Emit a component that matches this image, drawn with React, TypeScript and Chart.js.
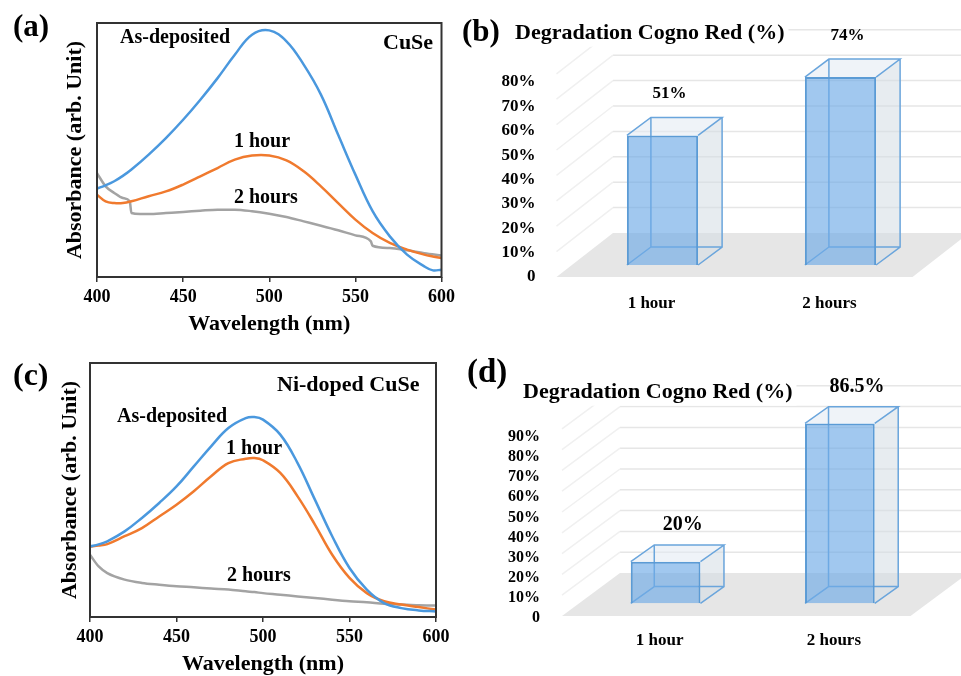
import React, { useEffect, useRef } from 'react';
import { Chart, registerables } from 'chart.js';

Chart.register(...registerables);

const FONT = "'Liberation Serif', 'Times New Roman', serif";

// ---------- Panel (a): CuSe absorbance ----------
const cuseWavelength = [400, 405, 410, 415, 420, 430, 440, 450, 460, 470, 480, 490, 500, 510, 520, 530, 540, 550, 560, 570, 580, 590, 595, 600];
const cuseAsDeposited = [34.8, 36.1, 37.7, 39.8, 42.3, 48.2, 54.7, 61.9, 69.8, 78.3, 87.5, 95.4, 97.1, 92.8, 83.6, 71.8, 56.0, 40.3, 25.9, 16.0, 8.8, 4.2, 2.6, 2.9];
const cuseOneHour = [32.4, 29.8, 29.1, 29.1, 29.8, 31.8, 33.7, 36.4, 39.6, 42.9, 46.2, 47.8, 47.8, 45.9, 41.6, 35.7, 29.1, 22.6, 17.3, 13.4, 10.8, 8.8, 8.1, 7.5];
const cuseTwoHoursWavelength = [400, 405, 410, 415, 419, 420, 425, 430, 440, 450, 460, 470, 480, 490, 500, 510, 520, 530, 540, 550, 559, 560, 570, 580, 590, 600];
const cuseTwoHours = [40.9, 35.7, 33.1, 31.1, 29.8, 25.2, 24.8, 24.8, 25.2, 25.6, 26.1, 26.5, 26.5, 25.9, 24.9, 23.6, 21.9, 20.2, 18.4, 16.4, 14.0, 12.3, 11.4, 10.5, 9.4, 8.5];

// ---------- Panel (c): Ni-doped CuSe absorbance ----------
const niWavelength = [400, 405, 410, 420, 430, 440, 450, 460, 470, 480, 490, 495, 500, 510, 520, 530, 540, 550, 560, 570, 580, 590, 600];
const niAsDeposited = [27.8, 28.6, 29.8, 33.7, 39.0, 44.9, 51.4, 59.3, 67.2, 74.4, 78.3, 78.7, 77.7, 71.8, 60.6, 46.2, 31.8, 19.3, 10.8, 5.5, 3.5, 2.6, 2.2];
const niOneHour = [27.8, 28.1, 28.7, 31.8, 35.0, 39.6, 44.2, 49.5, 55.4, 60.6, 62.3, 62.6, 61.7, 56.7, 47.5, 36.4, 24.5, 15.4, 9.4, 6.2, 4.9, 3.9, 2.9];
const niTwoHours = [24.5, 19.9, 17.3, 14.7, 13.4, 12.7, 12.1, 11.7, 11.2, 10.8, 10.1, 9.8, 9.4, 8.8, 8.1, 7.5, 6.8, 6.2, 5.8, 5.2, 4.9, 4.6, 4.5];

const wavelengthTicks = [400, 450, 500, 550, 600];

// ---------- Panels (b) and (d): degradation ----------
const categories = ['1 hour', '2 hours'];
const cuseDegradation = [51, 74];
const niDegradation = [20, 86.5];
const cuseDegTicks = [0, 10, 20, 30, 40, 50, 60, 70, 80];
const niDegTicks = [0, 10, 20, 30, 40, 50, 60, 70, 80, 90];

const COLORS = { dep: '#4A98DE', h1: '#F07A2E', h2: '#A3A3A3' };

type TextItem = { text: string; x: number; y: number; size: number; baseline?: CanvasTextBaseline; bg?: boolean };

function makeTextPlugin(items: TextItem[]) {
  return {
    id: 'texts',
    afterDraw(chart: any) {
      const ctx = chart.ctx;
      ctx.save();
      for (const it of items) {
        ctx.font = `bold ${it.size}px ${FONT}`;
        ctx.textAlign = 'left';
        ctx.textBaseline = it.baseline || 'alphabetic';
        if (it.bg) {
          const w = ctx.measureText(it.text).width;
          ctx.fillStyle = '#fff';
          ctx.fillRect(it.x - 4, it.y - it.size, w + 8, it.size * 1.35);
        }
        ctx.fillStyle = '#000';
        ctx.fillText(it.text, it.x, it.y);
      }
      ctx.restore();
    },
  };
}

const framePlugin = {
  id: 'frame',
  afterDraw(chart: any) {
    const { left, top, right, bottom } = chart.chartArea;
    const ctx = chart.ctx;
    ctx.save();
    ctx.strokeStyle = '#333';
    ctx.lineWidth = 2;
    ctx.strokeRect(left, top, right - left, bottom - top);
    ctx.restore();
  },
};

type Series = { label: string; wl: number[]; values: number[]; color: string; mono?: boolean };

function makeLineConfig(series: Series[], lay: any, texts: TextItem[]) {
  const titleFont = { family: FONT, size: 22, weight: 'bold' as const };
  return {
    type: 'line' as const,
    data: {
      datasets: series.map((s) => ({
        label: s.label,
        data: s.wl.map((x, i) => ({ x, y: s.values[i] })),
        borderColor: s.color,
        borderWidth: 2.5,
        pointRadius: 0,
        cubicInterpolationMode: s.mono ? ('monotone' as const) : ('default' as const),
        tension: s.mono ? 0 : 0.4,
        fill: false,
      })),
    },
    options: {
      animation: false as const,
      responsive: false,
      events: [],
      layout: { padding: { top: lay.top, right: lay.right, left: 0, bottom: 0 } },
      scales: {
        x: {
          type: 'linear' as const,
          min: 400,
          max: 600,
          afterBuildTicks: (s: any) => { s.ticks = wavelengthTicks.map((v) => ({ value: v })); },
          ticks: { color: '#000', font: { family: FONT, size: 18, weight: 'bold' as const }, padding: 5 },
          grid: { drawOnChartArea: false, drawTicks: true, tickLength: 5, color: '#333', lineWidth: 1.5 },
          border: { display: false },
          title: { display: true, text: 'Wavelength (nm)', color: '#000', font: titleFont, padding: { top: 0, bottom: lay.xTitleBottom } },
          afterFit: (s: any) => { s.height = lay.xAxisH; },
        },
        y: {
          min: 0,
          max: 100,
          ticks: { display: false },
          grid: { display: false },
          border: { display: false },
          title: { display: true, text: 'Absorbance (arb. Unit)', color: '#000', font: titleFont, padding: { top: lay.yTitleTop, bottom: 0 } },
          afterFit: (s: any) => { s.width = lay.yAxisW; s.paddingTop = 0; s.paddingBottom = 0; },
        },
      },
      plugins: { legend: { display: false }, tooltip: { enabled: false } },
    },
    plugins: [framePlugin, makeTextPlugin(texts)],
  };
}

function makeBox3d(cfg: any) {
  return {
    id: 'box3d',
    beforeDatasetsDraw(chart: any) {
      const ctx = chart.ctx;
      const ca = chart.chartArea;
      const ys = chart.scales.y;
      const y0 = ys.getPixelForValue(0);
      const [ffx, ffy] = cfg.floorFront;
      const [fbx, fby] = cfg.floorBack;
      ctx.save();
      // floor
      ctx.fillStyle = '#e6e6e6';
      ctx.beginPath();
      ctx.moveTo(ca.left + ffx, y0 + ffy);
      ctx.lineTo(ca.right + ffx, y0 + ffy);
      ctx.lineTo(ca.right + fbx, y0 + fby);
      ctx.lineTo(ca.left + fbx, y0 + fby);
      ctx.closePath();
      ctx.fill();
      // back wall + side wall gridlines
      ctx.lineWidth = 1.5;
      for (const v of cfg.ticks) {
        if (v === 0) continue;
        const py = ys.getPixelForValue(v);
        ctx.strokeStyle = '#e6e6e6';
        ctx.beginPath();
        ctx.moveTo(ca.left + fbx, py + fby);
        ctx.lineTo(chart.width, py + fby);
        ctx.stroke();
        ctx.strokeStyle = '#f0f0f0';
        ctx.beginPath();
        ctx.moveTo(ca.left + fbx, py + fby);
        ctx.lineTo(ca.left + ffx, py + ffy);
        ctx.stroke();
      }
      // bar back, side and top faces
      const [dx, dy] = cfg.depth;
      const meta = chart.getDatasetMeta(0);
      meta.data.forEach((bar: any) => {
        const p = bar.getProps(['x', 'y', 'base', 'width'], true);
        const L = p.x - p.width / 2;
        const R = p.x + p.width / 2;
        const T = p.y;
        const B = p.base;
        const poly = (pts: number[][], fill: string) => {
          ctx.beginPath();
          ctx.moveTo(pts[0][0], pts[0][1]);
          for (let i = 1; i < pts.length; i++) ctx.lineTo(pts[i][0], pts[i][1]);
          ctx.closePath();
          ctx.fillStyle = fill;
          ctx.fill();
        };
        poly([[R, T], [R + dx, T + dy], [R + dx, B + dy], [R, B]], 'rgba(212,220,228,0.55)');
        poly([[L, T], [L + dx, T + dy], [R + dx, T + dy], [R, T]], 'rgba(226,234,242,0.55)');
        ctx.strokeStyle = '#6AA5DC';
        ctx.lineWidth = 1.5;
        ctx.beginPath();
        ctx.moveTo(L + dx, T + dy); ctx.lineTo(L + dx, B + dy); ctx.lineTo(R + dx, B + dy);
        ctx.moveTo(L, B); ctx.lineTo(L + dx, B + dy);
        ctx.moveTo(L, T); ctx.lineTo(L + dx, T + dy); ctx.lineTo(R + dx, T + dy); ctx.lineTo(R, T);
        ctx.moveTo(R + dx, T + dy); ctx.lineTo(R + dx, B + dy); ctx.lineTo(R, B);
        ctx.stroke();
      });
      ctx.restore();
    },
    afterDatasetsDraw(chart: any) {
      const ctx = chart.ctx;
      const meta = chart.getDatasetMeta(0);
      const vals = chart.data.datasets[0].data;
      ctx.save();
      ctx.font = `bold ${cfg.labelSize}px ${FONT}`;
      ctx.textAlign = 'center';
      ctx.textBaseline = 'middle';
      ctx.fillStyle = '#000';
      meta.data.forEach((bar: any, i: number) => {
        const p = bar.getProps(['x', 'y'], true);
        ctx.fillText(`${vals[i]}%`, p.x + cfg.labelDx, p.y + cfg.labelDy);
      });
      ctx.restore();
    },
  };
}

function makeBarConfig(values: number[], ticks: number[], lay: any, texts: TextItem[]) {
  const tickFont = { family: FONT, size: lay.tickSize, weight: 'bold' as const };
  return {
    type: 'bar' as const,
    data: {
      labels: categories,
      datasets: [
        {
          label: 'Degradation Cogno Red (%)',
          data: values,
          backgroundColor: 'rgba(110,170,230,0.65)',
          borderColor: '#5B9BD5',
          borderWidth: 2,
          categoryPercentage: 1,
          barPercentage: 0.4,
          yAxisID: 'y',
        },
      ],
    },
    options: {
      animation: false as const,
      responsive: false,
      events: [],
      layout: { padding: { top: lay.top, right: lay.right, left: 0, bottom: 0 } },
      scales: {
        x: {
          type: 'category' as const,
          offset: true,
          grid: { display: false },
          border: { display: false },
          ticks: { color: '#000', font: { family: FONT, size: 17, weight: 'bold' as const }, padding: lay.xPad, labelOffset: lay.xLabelOffset },
          afterFit: (s: any) => { s.height = lay.xAxisH; s.paddingLeft = 0; s.paddingRight = 0; },
        },
        y: { display: false, min: lay.barMin, max: lay.barMax },
        yl: {
          position: 'left' as const,
          min: 0,
          max: lay.lblMax,
          afterBuildTicks: (s: any) => { s.ticks = ticks.map((v) => ({ value: v })); },
          ticks: { color: '#000', font: tickFont, padding: lay.yPad, callback: (v: any) => (v === 0 ? '0' : `${v}%`) },
          grid: { display: false },
          border: { display: false },
          afterFit: (s: any) => { s.width = lay.yAxisW; s.paddingTop = 0; s.paddingBottom = 0; },
        },
      },
      plugins: { legend: { display: false }, tooltip: { enabled: false } },
    },
    plugins: [
      makeBox3d({ ticks, depth: lay.depth, floorFront: lay.floorFront, floorBack: lay.floorBack, labelSize: lay.labelSize, labelDx: lay.labelDx, labelDy: lay.labelDy }),
      makeTextPlugin(texts),
    ],
  };
}

function ChartBox({ left, top, width, height, make }: { left: number; top: number; width: number; height: number; make: () => any }) {
  const ref = useRef<HTMLCanvasElement>(null);
  useEffect(() => {
    const chart = new Chart(ref.current as HTMLCanvasElement, make());
    return () => chart.destroy();
  }, []);
  return (
    <div style={{ position: 'absolute', left, top, width, height }}>
      <canvas ref={ref} width={width} height={height} style={{ width, height, display: 'block' }} />
    </div>
  );
}

export default function App() {
  const makeA = () =>
    makeLineConfig(
      [
        { label: 'As-deposited', wl: cuseWavelength, values: cuseAsDeposited, color: COLORS.dep },
        { label: '1 hour', wl: cuseWavelength, values: cuseOneHour, color: COLORS.h1 },
        { label: '2 hours', wl: cuseTwoHoursWavelength, values: cuseTwoHours, color: COLORS.h2, mono: true },
      ],
      { top: 23, right: 17, xAxisH: 63, yAxisW: 97, xTitleBottom: 2, yTitleTop: 62 },
      [
        { text: '(a)', x: 13, y: 28, size: 31, baseline: 'middle' },
        { text: 'As-deposited', x: 120, y: 43, size: 20 },
        { text: 'CuSe', x: 383, y: 49, size: 22 },
        { text: '1 hour', x: 234, y: 147, size: 20 },
        { text: '2 hours', x: 234, y: 203, size: 20 },
      ]
    );
  const makeC = () =>
    makeLineConfig(
      [
        { label: 'As-deposited', wl: niWavelength, values: niAsDeposited, color: COLORS.dep },
        { label: '1 hour', wl: niWavelength, values: niOneHour, color: COLORS.h1 },
        { label: '2 hours', wl: niWavelength, values: niTwoHours, color: COLORS.h2, mono: true },
      ],
      { top: 23, right: 24, xAxisH: 59, yAxisW: 90, xTitleBottom: -2, yTitleTop: 57 },
      [
        { text: '(c)', x: 13, y: 37, size: 32, baseline: 'middle' },
        { text: 'Ni-doped CuSe', x: 277, y: 51, size: 22 },
        { text: 'As-deposited', x: 117, y: 82, size: 20 },
        { text: '1 hour', x: 226, y: 114, size: 20 },
        { text: '2 hours', x: 227, y: 241, size: 20 },
      ]
    );
  const makeB = () =>
    makeBarConfig(
      cuseDegradation,
      cuseDegTicks,
      {
        top: 20, right: 31.5, xAxisH: 63, yAxisW: 113.5, yPad: 30, xPad: 8, xLabelOffset: -11, tickSize: 17,
        barMin: -4.72, barMax: 96.46, lblMax: 105.44,
        depth: [24, -18], floorFront: [-17, 12], floorBack: [39.5, -32],
        labelSize: 17, labelDx: 7, labelDy: -41.5,
      },
      [
        { text: '(b)', x: 2, y: 33, size: 31, baseline: 'middle' },
        { text: 'Degradation Cogno Red (%)', x: 55, y: 39, size: 22, bg: true },
      ]
    );
  const makeD = () =>
    makeBarConfig(
      niDegradation,
      niDegTicks,
      {
        top: 20, right: 34, xAxisH: 58, yAxisW: 118.5, yPad: 30.5, xPad: 4.5, xLabelOffset: -6, tickSize: 16,
        barMin: -7.07, barMax: 116.97, lblMax: 128.3,
        depth: [23.5, -16.7], floorFront: [-16.5, 12.7], floorBack: [41.5, -30.3],
        labelSize: 20, labelDx: 17, labelDy: -36.5,
      },
      [
        { text: '(d)', x: 7, y: 33, size: 33, baseline: 'middle' },
        { text: 'Degradation Cogno Red (%)', x: 63, y: 58, size: 22, bg: true },
      ]
    );
  return (
    <div style={{ position: 'fixed', left: 0, top: 0, width: 961, height: 676, background: '#fff', overflow: 'hidden' }}>
      <ChartBox left={0} top={0} width={460} height={340} make={makeA} />
      <ChartBox left={460} top={0} width={501} height={340} make={makeB} />
      <ChartBox left={0} top={340} width={460} height={336} make={makeC} />
      <ChartBox left={460} top={340} width={501} height={336} make={makeD} />
    </div>
  );
}
